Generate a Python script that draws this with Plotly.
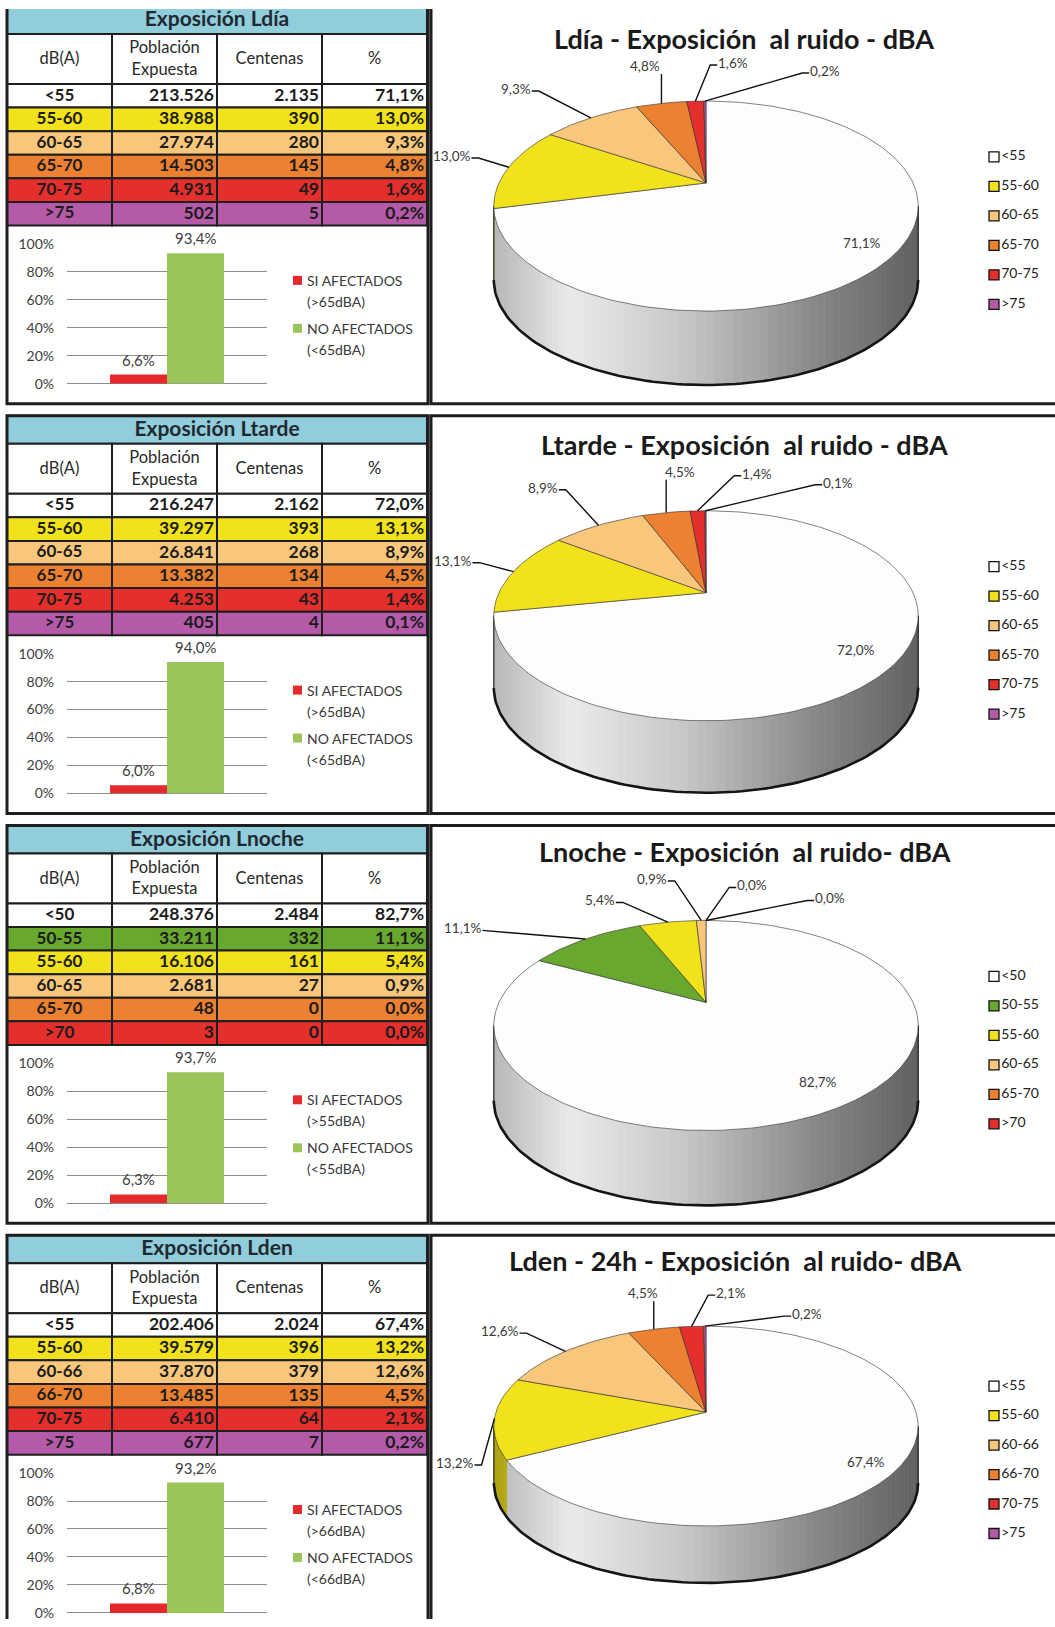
import math
import plotly.graph_objects as go

W, H = 1055, 1627
FONT = "Lato"

# ---------------- data ----------------
table_titles = ["Exposición Ldía", "Exposición Ltarde", "Exposición Lnoche", "Exposición Lden"]
pie_titles = ["Ldía - Exposición  al ruido - dBA",
              "Ltarde - Exposición  al ruido - dBA",
              "Lnoche - Exposición  al ruido- dBA",
              "Lden - 24h - Exposición  al ruido- dBA"]
header_labels = ["dB(A)", "Población<br>Expuesta", "Centenas", "%"]

ldia_bands = ["<55", "55-60", "60-65", "65-70", "70-75", ">75"]
ldia_pop = [213526, 38988, 27974, 14503, 4931, 502]
ldia_cent = [2135, 390, 280, 145, 49, 5]
ldia_pct = [71.1, 13.0, 9.3, 4.8, 1.6, 0.2]
ldia_afectados = [6.6, 93.4]

ltarde_bands = ["<55", "55-60", "60-65", "65-70", "70-75", ">75"]
ltarde_pop = [216247, 39297, 26841, 13382, 4253, 405]
ltarde_cent = [2162, 393, 268, 134, 43, 4]
ltarde_pct = [72.0, 13.1, 8.9, 4.5, 1.4, 0.1]
ltarde_afectados = [6.0, 94.0]

lnoche_bands = ["<50", "50-55", "55-60", "60-65", "65-70", ">70"]
lnoche_pop = [248376, 33211, 16106, 2681, 48, 3]
lnoche_cent = [2484, 332, 161, 27, 0, 0]
lnoche_pct = [82.7, 11.1, 5.4, 0.9, 0.0, 0.0]
lnoche_afectados = [6.3, 93.7]

lden_bands = ["<55", "55-60", "60-66", "66-70", "70-75", ">75"]
lden_pop = [202406, 39579, 37870, 13485, 6410, 677]
lden_cent = [2024, 396, 379, 135, 64, 7]
lden_pct = [67.4, 13.2, 12.6, 4.5, 2.1, 0.2]
lden_afectados = [6.8, 93.2]

umbral_dba = [65, 65, 55, 66]
y_ticks = [0, 20, 40, 60, 80, 100]

# ---------------- styles ----------------
C_WHITE = "#ffffff"
C_YELLOW = "#f1e21c"
C_LORANGE = "#f8c77b"
C_ORANGE = "#ec8132"
C_RED = "#e52f2c"
C_PURPLE = "#b55aa9"
C_GREEN = "#68a82e"
C_TITLE = "#92cddc"
BAR_RED = "#e5292d"
BAR_GREEN = "#9bc55a"
INK = "#1c1c1c"
FRAME = "#1e1e1e"

band_colors = [
    [C_WHITE, C_YELLOW, C_LORANGE, C_ORANGE, C_RED, C_PURPLE],
    [C_WHITE, C_YELLOW, C_LORANGE, C_ORANGE, C_RED, C_PURPLE],
    [C_WHITE, C_GREEN, C_YELLOW, C_LORANGE, C_ORANGE, C_RED],
    [C_WHITE, C_YELLOW, C_LORANGE, C_ORANGE, C_RED, C_PURPLE],
]

panels = [
    dict(bands=ldia_bands, pop=ldia_pop, cent=ldia_cent, pct=ldia_pct, afect=ldia_afectados),
    dict(bands=ltarde_bands, pop=ltarde_pop, cent=ltarde_cent, pct=ltarde_pct, afect=ltarde_afectados),
    dict(bands=lnoche_bands, pop=lnoche_pop, cent=lnoche_cent, pct=lnoche_pct, afect=lnoche_afectados),
    dict(bands=lden_bands, pop=lden_pop, cent=lden_cent, pct=lden_pct, afect=lden_afectados),
]

# layout in pixels of the drawing canvas
panel_tops = [5, 415, 825, 1235]
col_edges = [7, 112, 217, 322, 427]
TITLE_H, HEADER_H, ROW_H = 28, 50, 23.6
BOX_H = 398
BARGAP = 0.43

# the canvas is laid out slightly taller than the figure and offset from its top edge
CANVAS_SCALE = 1627.0 / 1643.0
CANVAS_OFFSET = 8.0


def fig_px(p):
    """canvas pixel row -> figure pixel row"""
    return p / CANVAS_SCALE - CANVAS_OFFSET


# pie geometry (perspective ellipse): rx, ry, perspective, wall depth
PIE_CX, PIE_DY = 706, 177
pie_shape = [
    (207.0, 100.0, 0.22, 74.0),
    (207.0, 100.0, 0.22, 72.0),
    (207.0, 100.0, 0.22, 75.0),
    (210.0, 98.0, 0.14, 57.0),
]
pie_title_pos = [(744, 32), (744, 29), (745, 26.5), (735, 25)]
legend_x, legend_dy, legend_step = 994, 151, 29.5

# label positions relative to the pie centre
label_pos = [
    [(156, 60), (-254, -27), (-190, -94), (-61, -117), (27, -120), (119, -112)],
    [(150, 57), (-253, -32), (-163, -105), (-26, -121), (51, -119), (132, -110)],
    [(112, 80), (-243, -74), (-106, -102), (-54, -123.5), (46, -117), (124, -104)],
    [(160, 50), (-251, 51), (-206, -81), (-63, -119), (25, -119), (101, -98)],
]


def miles(n):
    return f"{n:,}".replace(",", ".")


def pct_es(v):
    return f"{v:.1f}".replace(".", ",") + "%"


def hex_rgb(h):
    h = h.lstrip("#")
    return tuple(int(h[i:i + 2], 16) for i in (0, 2, 4))


def shade(h, f):
    r, g, b = hex_rgb(h)
    return f"rgb({int(r * f)},{int(g * f)},{int(b * f)})"


def side_light(s):
    pts = [(0.0, 0.72), (0.18, 0.92), (0.45, 0.78), (0.75, 0.54), (1.0, 0.38)]
    for (x0, y0), (x1, y1) in zip(pts[:-1], pts[1:]):
        if s <= x1:
            return y0 + (y1 - y0) * (s - x0) / (x1 - x0)
    return pts[-1][1]


def rim(theta, cx, cy, geo):
    rx, ry, persp, _ = geo
    a = math.radians(theta)
    u, v = math.sin(a), -math.cos(a)
    k = 1.0 / (1.0 - persp * v)
    return cx + rx * u * k, cy + ry * v * k


traces, shapes, annotations = [], [], []


def rect(x0, y0, x1, y1, fill, lc=FRAME, lw=2.0, layer="below"):
    shapes.append(dict(type="rect", xref="x", yref="y", x0=x0, y0=y0, x1=x1, y1=y1,
                       fillcolor=fill, line=dict(color=lc, width=lw), layer=layer))


def text_trace(xs, ys, texts, size, color=INK, bold=False, pos="middle center"):
    traces.append(go.Scatter(
        x=xs, y=ys, mode="text", text=texts, textposition=pos,
        textfont=dict(family=FONT, size=size, color=color, weight="bold" if bold else "normal"),
        hoverinfo="skip", showlegend=False, xaxis="x", yaxis="y"))


def label(x, y, txt, size=13.5, color="#3a3a3a", bold=False, xanchor="center",
          xref="x", yref="y", yshift=0):
    annotations.append(dict(x=x, y=y, xref=xref, yref=yref, text=txt, showarrow=False,
                            xanchor=xanchor, yanchor="middle", yshift=yshift,
                            font=dict(family=FONT, size=size, color=color,
                                      weight="bold" if bold else "normal")))


layout_axes = {
    "xaxis": dict(domain=[0, 1], range=[0, W], visible=False, fixedrange=True),
    # canvas rows shown across the full figure height
    "yaxis": dict(domain=[0, 1],
                  range=[(H + CANVAS_OFFSET) * CANVAS_SCALE, CANVAS_OFFSET * CANVAS_SCALE],
                  visible=False, fixedrange=True),
}

for i, p in enumerate(panels):
    t = panel_tops[i]
    colors = band_colors[i]

    # ---------- table ----------
    rect(col_edges[0], t, col_edges[-1], t + TITLE_H, C_TITLE)
    text_trace([(col_edges[0] + col_edges[-1]) / 2], [t + TITLE_H / 2 + 1], [table_titles[i]], 21,
               color="#1f2a30", bold=True)
    hy0, hy1 = t + TITLE_H, t + TITLE_H + HEADER_H
    for c in range(4):
        rect(col_edges[c], hy0, col_edges[c + 1], hy1, C_WHITE)
    text_trace([(col_edges[c] + col_edges[c + 1]) / 2 for c in range(4)],
               [(hy0 + hy1) / 2 + 1] * 4, header_labels, 16.5, color="#2a2a2a")

    ry0 = hy1
    row_y = []
    for r, col in enumerate(colors):
        y0 = ry0 + r * ROW_H
        row_y.append(y0 + ROW_H / 2 + 0.5)
        for c in range(4):
            rect(col_edges[c], y0, col_edges[c + 1], y0 + ROW_H, col)
    text_trace([(col_edges[0] + col_edges[1]) / 2] * 6, row_y, p["bands"], 17, bold=True)
    text_trace([col_edges[2] - 3] * 6, row_y, [miles(v) for v in p["pop"]], 17.5, bold=True,
               pos="middle left")
    text_trace([col_edges[3] - 3] * 6, row_y, [miles(v) for v in p["cent"]], 17.5, bold=True,
               pos="middle left")
    text_trace([col_edges[4] - 3] * 6, row_y, [pct_es(v) for v in p["pct"]], 17.5, bold=True,
               pos="middle left")

    # frames
    rect(7, t, 428, t + BOX_H, "rgba(0,0,0,0)", lw=3, layer="above")
    rect(431, t, 1062, t + BOX_H, "rgba(0,0,0,0)", lw=3, layer="above")

    # ---------- afectados bar chart ----------
    n = i + 2
    xa, ya = f"x{n}", f"y{n}"
    u = umbral_dba[i]
    names = [f"SI AFECTADOS (>{u}dBA)", f"NO AFECTADOS (<{u}dBA)"]
    slot = (1 - BARGAP) / 2
    for k, (v, colr, nm) in enumerate(zip(p["afect"], [BAR_RED, BAR_GREEN], names)):
        traces.append(go.Bar(
            x=[0], y=[v], name=nm, marker=dict(color=colr, line=dict(width=0)),
            showlegend=False, hoverinfo="skip", xaxis=xa, yaxis=ya))
        # value label sitting above its bar
        label((k - 0.5) * slot, v, pct_es(v), size=15, color="#404040",
              xref=xa, yref=ya, yshift=15)
    layout_axes[f"xaxis{n}"] = dict(domain=[67 / W, 267 / W], range=[-0.5, 0.5], visible=False,
                                    anchor=ya, fixedrange=True)
    layout_axes[f"yaxis{n}"] = dict(
        domain=[1 - fig_px(t + 378) / H, 1 - fig_px(t + 238) / H], range=[0, 100], anchor=xa,
        tickmode="array", tickvals=y_ticks, ticktext=[f"{v}%" for v in y_ticks],
        showgrid=True, gridcolor="#8c8c8c", gridwidth=1, zeroline=True,
        zerolinecolor="#8c8c8c", zerolinewidth=1, showline=False,
        ticks="", ticklabelstandoff=12, fixedrange=True,
        tickfont=dict(family=FONT, size=14, color="#404040"))

    # bar legend
    for k, (colr, nm) in enumerate(zip([BAR_RED, BAR_GREEN], names)):
        yc = t + 274.5 + k * 48
        rect(293, yc - 4.5, 302, yc + 4.5, colr, lc=colr, lw=0)
        first, second = nm.split(" (")
        label(305, yc, first, size=14, color="#3a3a3a", xanchor="left")
        label(305, yc + 21, "(" + second, size=14, color="#3a3a3a", xanchor="left")

    # ---------- 3D pie ----------
    geo = pie_shape[i]
    depth = geo[3]
    cx, cy = PIE_CX, t + PIE_DY
    pct = p["pct"]
    total = sum(pct)
    bounds = [0.0]
    for v in pct:
        bounds.append(bounds[-1] + 360.0 * v / total)

    th_s = math.degrees(math.acos(-geo[2]))
    vis0, vis1 = th_s, 360.0 - th_s
    xl, xr = rim(vis1, cx, cy, geo)[0], rim(vis0, cx, cy, geo)[0]

    # side wall, shaded strip by strip
    for k, colr in enumerate(colors):
        a0, a1 = max(bounds[k], vis0), min(bounds[k + 1], vis1)
        if a1 <= a0:
            continue
        m = max(1, int(math.ceil((a1 - a0) / 2.0)))
        for j in range(m):
            b0 = a0 + (a1 - a0) * j / m
            b1 = a0 + (a1 - a0) * (j + 1) / m
            p0, p1 = rim(b0, cx, cy, geo), rim(b1, cx, cy, geo)
            s = ((p0[0] + p1[0]) / 2 - xl) / (xr - xl)
            fc = shade(colr, side_light(min(max(s, 0), 1)))
            path = (f"M{p0[0]:.2f},{p0[1]:.2f} L{p1[0]:.2f},{p1[1]:.2f} "
                    f"L{p1[0]:.2f},{p1[1] + depth:.2f} L{p0[0]:.2f},{p0[1] + depth:.2f} Z")
            shapes.append(dict(type="path", path=path, xref="x", yref="y", fillcolor=fc,
                               line=dict(color=fc, width=0.8), layer="below"))

    # side outline
    steps = 120
    bx, by = [], []
    for j in range(steps + 1):
        a = vis0 + (vis1 - vis0) * j / steps
        q = rim(a, cx, cy, geo)
        bx.append(q[0])
        by.append(q[1] + depth)
    traces.append(go.Scatter(x=bx, y=by, mode="lines", line=dict(color="#151515", width=2.6),
                             hoverinfo="skip", showlegend=False, xaxis="x", yaxis="y"))
    for a in (vis0, vis1):
        q = rim(a, cx, cy, geo)
        traces.append(go.Scatter(x=[q[0], q[0]], y=[q[1], q[1] + depth], mode="lines",
                                 line=dict(color="#2a2a2a", width=1.2), hoverinfo="skip",
                                 showlegend=False, xaxis="x", yaxis="y"))

    # top face slices
    for k, colr in enumerate(colors):
        a0, a1 = bounds[k], bounds[k + 1]
        if a1 - a0 < 1e-6:
            continue
        m = max(2, int(math.ceil((a1 - a0) / 1.5)))
        xs, ys = [cx], [cy]
        for j in range(m + 1):
            q = rim(a0 + (a1 - a0) * j / m, cx, cy, geo)
            xs.append(q[0])
            ys.append(q[1])
        xs.append(cx)
        ys.append(cy)
        traces.append(go.Scatter(
            x=xs, y=ys, mode="lines", fill="toself",
            fillcolor="#fdfdfd" if colr == C_WHITE else colr,
            line=dict(color="rgba(45,45,45,0.75)", width=0.8),
            hoverinfo="skip", showlegend=False, xaxis="x", yaxis="y"))

    # data labels with leader lines
    lp = label_pos[i]
    for k, v in enumerate(pct):
        txt = pct_es(v)
        lx, ly = cx + lp[k][0], cy + lp[k][1]
        label(lx, ly, txt)
        if k == 0:
            continue
        mid = (bounds[k] + bounds[k + 1]) / 2
        ax, ay = rim(mid, cx, cy, geo)
        hw = 3.7 * len(txt)
        dx = lx - ax
        if dx < -20:
            lxs, lys = [ax, lx + hw + 8, lx + hw + 1], [ay, ly + 2, ly + 2]
        elif dx > 20:
            lxs, lys = [ax, lx - hw - 8, lx - hw - 1], [ay, ly + 2, ly + 2]
        else:
            lxs, lys = [ax, ax], [ay, ly + 8]
        traces.append(go.Scatter(x=lxs, y=lys, mode="lines", line=dict(color="#111111", width=1.4),
                                 hoverinfo="skip", showlegend=False, xaxis="x", yaxis="y"))

    # pie title
    tx, tdy = pie_title_pos[i]
    label(tx, t + tdy, pie_titles[i], size=27, color="#1a1a1a", bold=True)

    # pie legend
    traces.append(go.Scatter(
        x=[legend_x] * len(p["bands"]),
        y=[t + legend_dy + k * legend_step for k in range(len(p["bands"]))],
        mode="markers+text", text=p["bands"], textposition="middle right",
        textfont=dict(family=FONT, size=14, color="#222222"),
        marker=dict(symbol="square", size=10, color=colors, line=dict(color="#111111", width=1.3)),
        hoverinfo="skip", showlegend=False, xaxis="x", yaxis="y"))

fig = go.Figure(data=traces)
fig.update_layout(
    width=W, height=H, margin=dict(l=0, r=0, t=0, b=0),
    paper_bgcolor="white", plot_bgcolor="rgba(0,0,0,0)",
    barmode="group", bargap=BARGAP, bargroupgap=0,
    separators=",.", showlegend=False,
    shapes=shapes, annotations=annotations,
    font=dict(family=FONT),
    **layout_axes,
)
fig.write_html("out.html", post_script="document.body.style.margin='0px';"
                                       "document.body.style.overflow='hidden';")
